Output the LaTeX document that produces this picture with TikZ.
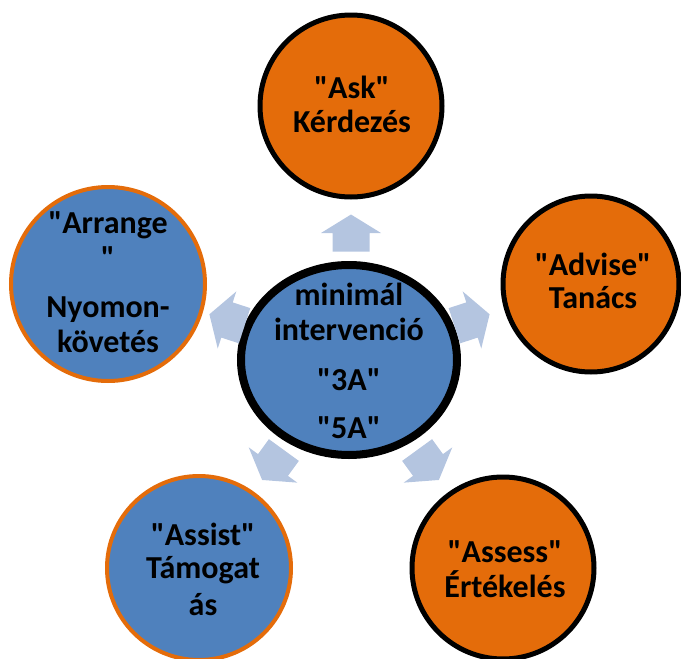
\documentclass[tikz,border=0pt]{standalone}
\usepackage{fontspec}
\setmainfont[Ligatures=TeXOff]{Carlito}
\newcommand{\dq}{\symbol{34}}
\definecolor{orangefill}{HTML}{E46C0A}
\definecolor{bluefill}{HTML}{4F81BD}
\definecolor{arrowfill}{HTML}{B4C5E0}
\tikzset{
  orangecirc/.style={circle, fill=orangefill, draw=black, line width=5pt, inner sep=0pt},
  bluecirc/.style={circle, fill=bluefill, draw=orangefill, line width=4pt, inner sep=0pt},
  lbl/.style={anchor=base, inner sep=0pt, font=\fontsize{32}{37}\selectfont\bfseries, text=black},
  blockarrow/.pic={\fill[arrowfill] (-18.5,-18.5) -- (0,-18.5) -- (0,-30) -- (18.5,0) -- (0,30) -- (0,18.5) -- (-18.5,18.5) -- cycle;}
}
\begin{document}
\begin{tikzpicture}[x=1pt,y=-1pt]
\useasboundingbox (0,0) rectangle (681,659);
% circles
\node[orangecirc, minimum size=182pt] (ask) at (351,106) {};
\node[orangecirc, minimum size=176pt] (advise) at (591,284) {};
\node[orangecirc, minimum size=182pt] (assess) at (503,568) {};
\node[bluecirc, minimum size=184pt] (assist) at (199,568) {};
\node[bluecirc, minimum size=194pt] (arrange) at (108,284) {};
% center ellipse
\draw[fill=bluefill, draw=black, line width=8pt] (349,360) ellipse [x radius=108, y radius=95];
\coordinate (center) at (349,360);
% arrows
\pic[rotate=90] at (351,233) {blockarrow};
\pic[rotate=18] at (472,320) {blockarrow};
\pic[rotate=-54] at (428,465) {blockarrow};
\pic[rotate=-126] at (273,465) {blockarrow};
\pic[rotate=162] at (227,320) {blockarrow};
% texts
\node[lbl] (t1) at (352,98) {\dq Ask\dq};
\node[lbl] (t2) at (352,132) {Kérdezés};
\node[lbl] (t3) at (593,275) {\dq Advise\dq};
\node[lbl] (t4) at (593,308) {Tanács};
\node[lbl] (t5) at (505,562) {\dq Assess\dq};
\node[lbl] (t6) at (505,597) {Értékelés};
\node[lbl] (t7) at (203,545) {\dq Assist\dq};
\node[lbl] (t8) at (203,578) {Támogat};
\node[lbl] (t9) at (203,615) {ás};
\node[lbl] (t10) at (108,233) {\dq Arrange};
\node[lbl] (t11) at (108,268) {\dq};
\node[lbl] (t12) at (108,317) {Nyomon-};
\node[lbl] (t13) at (108,352) {követés};
\node[lbl] (c1) at (349,305) {minimál};
\node[lbl] (c2) at (349,340) {intervenció};
\node[lbl] (c3) at (349,390) {\dq 3A\dq};
\node[lbl] (c4) at (349,438) {\dq 5A\dq};
\end{tikzpicture}
\end{document}
